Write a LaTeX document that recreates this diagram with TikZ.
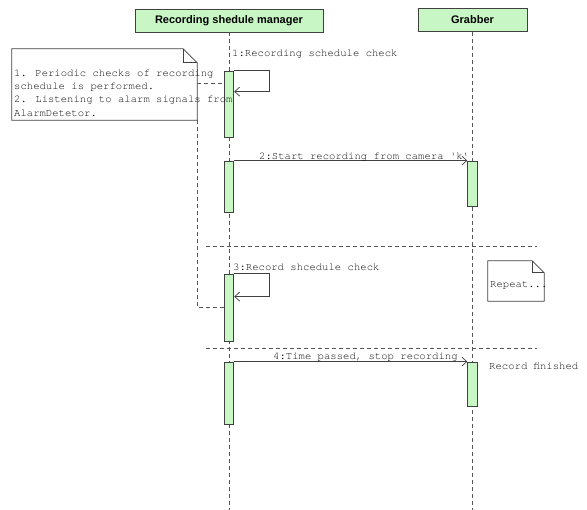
\documentclass[tikz,border=0pt]{standalone}
\usepackage{fontspec}
\setmainfont{Liberation Sans}
\newfontfamily\monofont{TeX Gyre Cursor}
\usetikzlibrary{arrows.meta,calc}
\definecolor{actfill}{RGB}{200,247,197}
\definecolor{edge}{RGB}{64,64,64}
\definecolor{dashgray}{RGB}{85,85,85}
\definecolor{txt}{RGB}{15,15,15}
\begin{document}
\begin{tikzpicture}[x=1pt,y=-1pt,
  header/.style={draw=edge, fill=actfill, line width=0.8pt, inner sep=0pt,
    minimum height=23pt, font=\fontsize{11}{13}\selectfont\bfseries},
  lifeline/.style={draw=dashgray, dash pattern=on 4pt off 3pt, line width=0.7pt},
  separator/.style={draw=dashgray, dash pattern=on 4pt off 3pt, line width=0.7pt},
  act/.style={draw=edge, fill=actfill, line width=0.8pt, inner sep=0pt, minimum width=9.5pt},
  msg/.style={draw=edge, line width=0.7pt, -{Straight Barb[length=5pt,width=9pt]}},
  lbl/.style={font=\monofont\fontsize{10.6}{12}\selectfont, text=txt, inner sep=0pt, anchor=base west},
  notebox/.style={draw=none, fill=white, inner sep=0pt},
  noteline/.style={draw=edge, line width=0.7pt},
  notelink/.style={draw=dashgray, dash pattern=on 4pt off 3pt, line width=0.7pt}]
\useasboundingbox (0,0) rectangle (587,510);

% lifeline heads
\node[header, minimum width=188pt] (mgr) at (229,20.5) {Recording shedule manager};
\node[header, minimum width=109pt] (grb) at (472.5,20) {Grabber};

% lifelines
\coordinate (mgrEnd) at (229,510);
\coordinate (grbEnd) at (472.5,510);
\draw[lifeline] (mgr.south) -- (mgrEnd);
\draw[lifeline] (grb.south) -- (grbEnd);

% section separators
\coordinate (sepAL) at (206,246);
\coordinate (sepAR) at (537,246);
\coordinate (sepBL) at (206,348);
\coordinate (sepBR) at (537,348);
\draw[separator] (sepAL) -- (sepAR);
\draw[separator] (sepBL) -- (sepBR);

% activations
\node[act, minimum height=66pt] (a1)  at (229,104)   {};
\node[act, minimum height=51pt] (a2m) at (229,186.5) {};
\node[act, minimum height=45pt] (a2g) at (472.5,183.5) {};
\node[act, minimum height=67pt] (a3)  at (229,307.5) {};
\node[act, minimum height=62pt] (a4m) at (229,393)   {};
\node[act, minimum height=44pt] (a4g) at (472.5,384) {};

% messages
\draw[msg] (a1.north east) -- ++(35,0) -- ++(0,21) -- ($(a1.north east)+(0,21)$);
\node[lbl] (m1) at (232,57) {1:Recording schedule check};

\draw[msg] (a2m.north east) -- (a2g.north west);
\node[lbl] (m2) at (259,159.5) {2:Start recording from camera 'k'};

\draw[msg] (a3.north east) -- ++(35,0) -- ++(0,23) -- ($(a3.north east)+(0,23)$);
\node[lbl] (m3) at (233,271) {3:Record shcedule check};

\draw[msg] (a4m.north east) -- (a4g.north west);
\node[lbl] (m4) at (273,359.5) {4:Time passed, stop recording};

\node[lbl] (fin) at (489,369.5) {Record finished};

% note on the manager
\node[notebox, minimum width=185pt, minimum height=71pt] (note1) at (104.5,84.5) {};
\draw[noteline] (note1.north west) -- ([xshift=-14pt]note1.north east)
  -- ([yshift=-14pt]note1.north east) -- (note1.south east)
  -- (note1.south west) -- cycle;
\draw[noteline] ([xshift=-14pt]note1.north east) |- ([yshift=-14pt]note1.north east);
\node[lbl] (n1a) at (14,76.5)  {1. Periodic checks of recording};
\node[lbl] (n1b) at (14,89.5)  {schedule is performed.};
\node[lbl] (n1c) at (14,103)   {2. Listening to alarm signals from};
\node[lbl] (n1d) at (14,116.5) {AlarmDetetor.};
\draw[notelink] (note1.east |- 0,83) -- (a1.west |- 0,83);
\draw[notelink] (note1.south east) |- (a3.west);

% note for the repeated part
\node[notebox, minimum width=56pt, minimum height=40pt] (note2) at (516,281) {};
\draw[noteline] (note2.north west) -- ([xshift=-12pt]note2.north east)
  -- ([yshift=-12pt]note2.north east) -- (note2.south east)
  -- (note2.south west) -- cycle;
\draw[noteline] ([xshift=-12pt]note2.north east) |- ([yshift=-12pt]note2.north east);
\node[lbl] (rep) at (490,287.5) {Repeat...};
\end{tikzpicture}
\end{document}
